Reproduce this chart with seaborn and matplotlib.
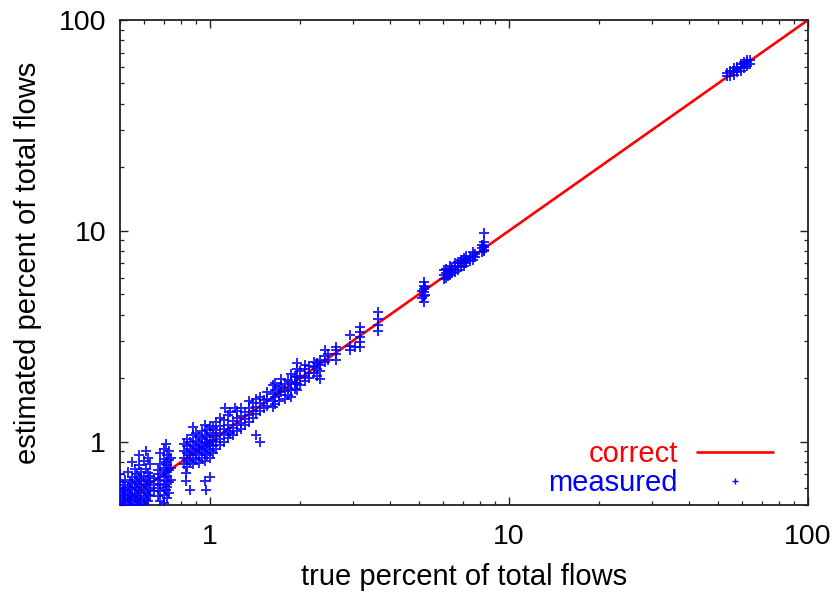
import matplotlib
matplotlib.use("Agg")
import matplotlib.pyplot as plt
import seaborn as sns
import pandas as pd
from matplotlib.lines import Line2D

# ---- data: (true percent, estimated percent) pairs ----
pts_low = [
    (0.50, 0.51), (0.50, 0.54), (0.50, 0.57), (0.50, 0.60), (0.50, 0.64), (0.50, 0.70),
    (0.51, 0.50), (0.51, 0.53), (0.51, 0.56), (0.51, 0.59), (0.51, 0.62),
    (0.52, 0.52), (0.52, 0.55), (0.52, 0.58), (0.52, 0.66),
    (0.53, 0.51), (0.53, 0.54), (0.53, 0.57), (0.53, 0.61), (0.53, 0.72),
    (0.54, 0.50), (0.54, 0.53), (0.54, 0.56), (0.54, 0.60), (0.54, 0.64),
    (0.55, 0.52), (0.55, 0.55), (0.55, 0.59), (0.55, 0.63), (0.55, 0.68), (0.55, 0.80),
    (0.56, 0.51), (0.56, 0.54), (0.56, 0.57), (0.56, 0.61), (0.56, 0.66), (0.56, 0.74),
    (0.57, 0.53), (0.57, 0.56), (0.57, 0.60), (0.57, 0.64), (0.57, 0.70),
    (0.58, 0.50), (0.58, 0.55), (0.58, 0.58), (0.58, 0.62), (0.58, 0.67), (0.58, 0.77), (0.58, 0.86),
    (0.59, 0.52), (0.59, 0.57), (0.59, 0.61), (0.59, 0.65), (0.59, 0.72),
    (0.60, 0.51), (0.60, 0.54), (0.60, 0.59), (0.60, 0.63), (0.60, 0.69), (0.60, 0.81),
    (0.61, 0.53), (0.61, 0.57), (0.61, 0.62), (0.61, 0.66), (0.61, 0.74), (0.61, 0.90),
    (0.62, 0.52), (0.62, 0.56), (0.62, 0.60), (0.62, 0.65), (0.62, 0.71), (0.62, 0.84),
    (0.63, 0.55), (0.63, 0.59), (0.63, 0.64), (0.63, 0.69), (0.63, 0.78),
    (0.65, 0.58), (0.65, 0.62), (0.65, 0.67),
    (0.67, 0.55), (0.67, 0.60), (0.67, 0.66), (0.67, 0.73),
    (0.68, 0.52), (0.68, 0.58), (0.68, 0.63), (0.68, 0.70), (0.68, 0.78), (0.68, 0.88),
    (0.70, 0.51), (0.70, 0.56), (0.70, 0.62), (0.70, 0.68), (0.70, 0.75), (0.70, 0.83), (0.70, 0.92),
    (0.71, 0.59), (0.71, 0.65), (0.71, 0.72), (0.71, 0.80), (0.71, 0.97),
    (0.72, 0.54), (0.72, 0.61), (0.72, 0.69), (0.72, 0.77), (0.72, 0.86),
    (0.73, 0.57), (0.73, 0.64), (0.73, 0.73), (0.73, 0.82), (0.73, 0.90),
    (0.74, 0.66), (0.74, 0.75), (0.74, 0.84),
]

pts_one = [
    (0.82, 0.78), (0.82, 0.84), (0.82, 0.90), (0.82, 0.97),
    (0.84, 0.76), (0.84, 0.82), (0.84, 0.88), (0.84, 0.95), (0.84, 1.03),
    (0.86, 0.80), (0.86, 0.86), (0.86, 0.92), (0.86, 1.00),
    (0.88, 0.78), (0.88, 0.84), (0.88, 0.90), (0.88, 0.96), (0.88, 1.08), (0.88, 1.17),
    (0.90, 0.82), (0.90, 0.88), (0.90, 0.94), (0.90, 1.01), (0.90, 1.10),
    (0.92, 0.79), (0.92, 0.86), (0.92, 0.92), (0.92, 0.98), (0.92, 1.05),
    (0.94, 0.84), (0.94, 0.90), (0.94, 0.96), (0.94, 1.03), (0.94, 1.12),
    (0.96, 0.81), (0.96, 0.88), (0.96, 0.94), (0.96, 1.00), (0.96, 1.08), (0.96, 1.20),
    (0.98, 0.86), (0.98, 0.92), (0.98, 0.98), (0.98, 1.05), (0.98, 1.14),
    (1.00, 0.84), (1.00, 0.90), (1.00, 0.96), (1.00, 1.02), (1.00, 1.10), (1.00, 1.18),
    (1.02, 0.88), (1.02, 0.95), (1.02, 1.01), (1.02, 1.08), (1.02, 1.16),
    (1.05, 0.92), (1.05, 0.99), (1.05, 1.06), (1.05, 1.13), (1.05, 1.24),
    (1.08, 0.96), (1.08, 1.03), (1.08, 1.10), (1.08, 1.18), (1.08, 1.30),
    (1.11, 1.00), (1.11, 1.07), (1.11, 1.15), (1.11, 1.26), (1.12, 1.45),
    (1.15, 1.04), (1.15, 1.12), (1.15, 1.20), (1.15, 1.33),
    (1.17, 1.10), (1.17, 1.38),
    (1.19, 1.08), (1.19, 1.16), (1.19, 1.25), (1.21, 1.45),
    (1.23, 1.12), (1.23, 1.20), (1.23, 1.30), (1.23, 1.40),
    (0.83, 0.71), (0.83, 0.65), (0.86, 0.59), (0.96, 0.65), (0.97, 0.59), (1.00, 0.68),
]

pts_mid = [
    (1.27, 1.15), (1.27, 1.22), (1.27, 1.32), (1.27, 1.44),
    (1.31, 1.20), (1.31, 1.28), (1.31, 1.38),
    (1.35, 1.24), (1.35, 1.33), (1.35, 1.45), (1.35, 1.56),
    (1.39, 1.30), (1.39, 1.40), (1.39, 1.52),
    (1.43, 1.35), (1.43, 1.46), (1.43, 1.60), (1.43, 1.08),
    (1.47, 1.40), (1.47, 1.52), (1.47, 1.63), (1.47, 1.00),
    (1.51, 1.44), (1.51, 1.57),
    (1.55, 1.48), (1.55, 1.60), (1.55, 1.72),
    (1.62, 1.46), (1.62, 1.56), (1.62, 1.68), (1.62, 1.85),
    (1.65, 1.50), (1.65, 1.62), (1.65, 1.76), (1.65, 1.90),
    (1.70, 1.55), (1.70, 1.66), (1.70, 1.80),
    (1.73, 1.71), (1.73, 1.84), (1.73, 1.97),
    (1.78, 1.60), (1.78, 1.74), (1.78, 1.88),
    (1.83, 1.66), (1.83, 1.80), (1.83, 1.95),
    (1.86, 1.63), (1.86, 1.76), (1.86, 1.92), (1.86, 2.10),
    (1.92, 1.78), (1.92, 1.90), (1.92, 2.05),
    (1.96, 1.76), (1.96, 1.88), (1.96, 2.02), (1.96, 2.20), (1.96, 2.37),
    (2.00, 1.85), (2.00, 2.00), (2.00, 2.15),
    (2.08, 1.93), (2.08, 2.05), (2.08, 2.20), (2.08, 2.32),
    (2.15, 2.00), (2.15, 2.12), (2.15, 2.28),
    (2.22, 2.12), (2.22, 2.25), (2.22, 2.39),
    (2.28, 2.05), (2.28, 2.20), (2.28, 2.35),
    (2.34, 1.97), (2.34, 2.15), (2.34, 2.30), (2.34, 2.45),
    (2.43, 2.39), (2.43, 2.55), (2.43, 2.73),
    (2.48, 2.45), (2.48, 2.60),
    (2.63, 2.45), (2.63, 2.60), (2.63, 2.73), (2.64, 2.82),
    (2.95, 2.73), (2.95, 2.85), (2.95, 3.20),
    (3.05, 2.80),
    (3.18, 2.82), (3.18, 2.98), (3.18, 3.15), (3.18, 3.32), (3.18, 3.50),
    (3.66, 3.33), (3.66, 3.58), (3.66, 3.80), (3.66, 4.10),
]

pts_high = [
    (5.10, 4.80), (5.10, 5.20),
    (5.18, 4.60), (5.18, 4.90), (5.18, 5.10), (5.18, 5.30), (5.18, 5.50), (5.18, 5.73),
    (5.25, 4.95), (5.25, 5.40),
    (6.05, 5.90), (6.05, 6.20), (6.05, 6.50),
    (6.15, 6.00), (6.15, 6.30), (6.15, 6.60),
    (6.25, 6.10), (6.25, 6.40),
    (6.35, 6.20), (6.35, 6.50), (6.35, 6.80),
    (6.45, 6.30), (6.45, 6.60),
    (6.60, 6.40), (6.60, 6.70), (6.60, 7.00),
    (6.75, 6.50), (6.75, 6.80), (6.75, 7.10),
    (6.90, 6.70), (6.90, 7.00), (6.90, 7.30),
    (7.05, 6.80), (7.05, 7.10), (7.05, 7.40),
    (7.20, 7.00), (7.20, 7.30), (7.20, 7.60),
    (7.40, 7.20), (7.40, 7.50),
    (7.55, 7.30), (7.55, 7.60), (7.55, 7.90),
    (7.70, 7.50), (7.70, 7.80),
    (8.15, 7.90), (8.15, 8.30), (8.15, 8.60),
    (8.22, 8.00), (8.22, 8.40), (8.22, 8.80), (8.22, 9.80),
    (8.28, 8.10), (8.28, 8.50),
    (53.5, 54.0), (53.5, 56.0),
    (55.0, 54.5), (55.0, 57.0),
    (56.5, 55.0), (56.5, 57.5), (56.5, 59.0),
    (58.0, 56.5), (58.0, 58.5), (58.0, 60.0),
    (59.5, 57.5), (59.5, 60.0), (59.5, 61.5),
    (61.0, 59.0), (61.0, 61.5), (61.0, 63.0),
    (62.5, 60.5), (62.5, 63.0), (62.5, 64.5),
    (64.0, 62.0), (64.0, 64.5),
]

diag = [0.5, 100]
tick_vals = [1, 10, 100]
tick_labels = ["1", "10", "100"]
x_label = "true percent of total flows"
y_label = "estimated percent of total flows"
legend_labels = ["correct", "measured"]

# ---- build the frame ----
all_pts = pts_low + pts_one + pts_mid + pts_high
df = pd.DataFrame(all_pts, columns=["true", "est"])
line_df = pd.DataFrame({"true": diag, "est": diag})

sns.set_style("ticks")
plt.rcParams["font.family"] = ["Liberation Sans", "DejaVu Sans"]
plt.rcParams["text.color"] = "black"
plt.rcParams["axes.labelcolor"] = "black"

fig = plt.figure(figsize=(8.32, 5.92), dpi=100)
ax = fig.add_axes([120 / 832, 87 / 592, 688 / 832, 485 / 592])

ax.set_xscale("log")
ax.set_yscale("log")

sns.lineplot(data=line_df, x="true", y="est", ax=ax, color="#ff0000",
             linewidth=1.9, zorder=2)
sns.scatterplot(data=df, x="true", y="est", ax=ax, marker="+", s=58,
                color="#0000ff", linewidth=1.4, alpha=0.85, zorder=3)

ax.set_xlim(0.5, 100)
ax.set_ylim(0.5, 100)
ax.set_xticks(tick_vals, labels=tick_labels)
ax.set_yticks(tick_vals, labels=tick_labels)

ax.tick_params(which="both", direction="in", top=True, right=True,
               color="#222222", labelsize=20.5, labelcolor="black")
ax.tick_params(which="major", length=6, width=1.0)
ax.tick_params(axis="x", which="major", pad=14)
ax.tick_params(axis="y", which="major", pad=10)
ax.tick_params(which="minor", length=3.2, width=0.9)
for sp in ax.spines.values():
    sp.set_linewidth(1.3)
    sp.set_color("#222222")

ax.set_xlabel(x_label, fontsize=21, labelpad=9, color="black")
ax.set_ylabel(y_label, fontsize=21, labelpad=12, color="black")

handles = [
    Line2D([], [], color="#ff0000", linewidth=1.9),
    Line2D([], [], color="#0000ff", marker="+", linestyle="none",
           markersize=5, markeredgewidth=1.0),
]
ax.legend(handles, legend_labels, loc="lower right", markerfirst=False,
          frameon=False, fontsize=21, labelcolor=["#ff0000", "#0000ff"],
          handlelength=2.6, handletextpad=0.65, labelspacing=0.05,
          bbox_to_anchor=(0.987, -0.038))

fig.savefig("out.png", dpi=100)
